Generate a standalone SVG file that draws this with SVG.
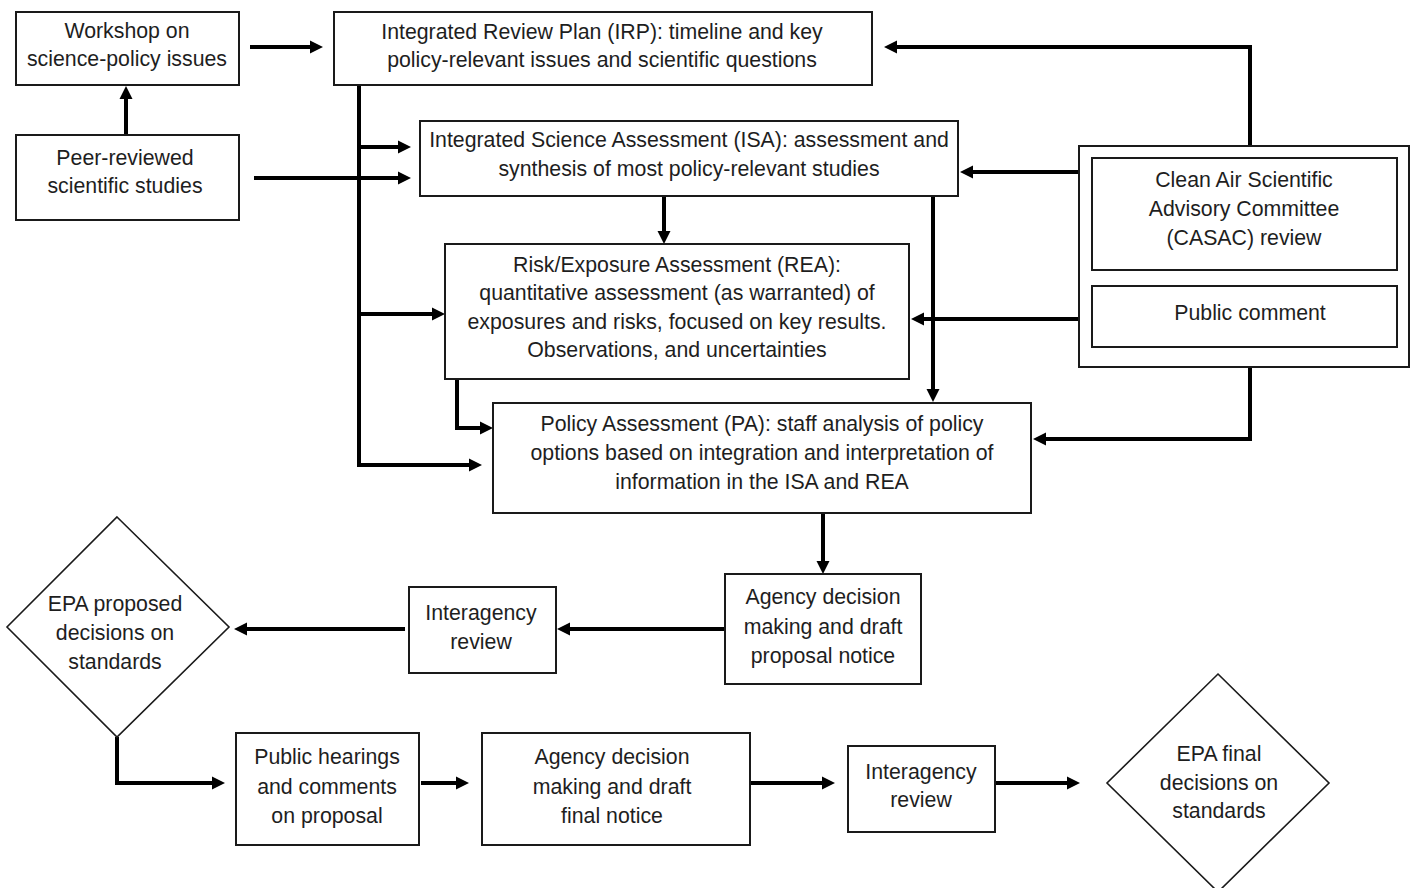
<svg xmlns="http://www.w3.org/2000/svg" width="1416" height="888" viewBox="0 0 1416 888">
<defs>
<style>
.box{fill:#fff;stroke:#1a1a1a;stroke-width:2}
.dia{fill:#fff;stroke:#1a1a1a;stroke-width:1.6}
.t{font-family:"Liberation Sans",Arial,sans-serif;font-size:21.3px;fill:#1e1e1e;text-anchor:middle;dominant-baseline:central}
.c{fill:none;stroke:#000;stroke-width:4;stroke-linejoin:miter}
</style>
<marker id="ah" viewBox="0 -7 13 14" refX="1" refY="0" markerWidth="13" markerHeight="14" markerUnits="userSpaceOnUse" orient="auto">
<path d="M0,-6.5 L13,0 L0,6.5 z" fill="#000"/>
</marker>
</defs>
<rect width="1416" height="888" fill="#fff"/>

<g id="connectors">
<path class="c" d="M250,47 H311" marker-end="url(#ah)"/>
<path class="c" d="M126,135 V98" marker-end="url(#ah)"/>
<path class="c" d="M254,178 H399" marker-end="url(#ah)"/>
<path class="c" d="M359,85 V465 H470"  marker-end="url(#ah)"/>
<path class="c" d="M359,147 H399" marker-end="url(#ah)"/>
<path class="c" d="M359,314 H433" marker-end="url(#ah)"/>
<path class="c" d="M664,196 V232" marker-end="url(#ah)"/>
<path class="c" d="M933,196 V390" marker-end="url(#ah)"/>
<path class="c" d="M457,379 V428 H481" marker-end="url(#ah)"/>
<path class="c" d="M1250,146 V47 H896" marker-end="url(#ah)"/>
<path class="c" d="M1079,172 H972" marker-end="url(#ah)"/>
<path class="c" d="M1079,319 H923" marker-end="url(#ah)"/>
<path class="c" d="M1250,367 V439 H1045" marker-end="url(#ah)"/>
<path class="c" d="M823,513 V562" marker-end="url(#ah)"/>
<path class="c" d="M725,629 H569" marker-end="url(#ah)"/>
<path class="c" d="M405,629 H246" marker-end="url(#ah)"/>
<path class="c" d="M117,737 V783 H213" marker-end="url(#ah)"/>
<path class="c" d="M421,783 H457" marker-end="url(#ah)"/>
<path class="c" d="M750,783 H823" marker-end="url(#ah)"/>
<path class="c" d="M995,783 H1068" marker-end="url(#ah)"/>
</g>

<g id="workshop">
<rect class="box" x="16" y="12" width="223" height="73"/>
<text class="t" x="127" y="31">Workshop on</text>
<text class="t" x="127" y="59">science-policy issues</text>
</g>

<g id="irp">
<rect class="box" x="334" y="12" width="538" height="73"/>
<text class="t" x="602" y="32">Integrated Review Plan (IRP): timeline and key</text>
<text class="t" x="602" y="60">policy-relevant issues and scientific questions</text>
</g>

<g id="peer">
<rect class="box" x="16" y="135" width="223" height="85"/>
<text class="t" x="125" y="158">Peer-reviewed</text>
<text class="t" x="125" y="186">scientific studies</text>
</g>

<g id="isa">
<rect class="box" x="420" y="121" width="538" height="75"/>
<text class="t" x="689" y="140">Integrated Science Assessment (ISA): assessment and</text>
<text class="t" x="689" y="169">synthesis of most policy-relevant studies</text>
</g>

<g id="rea">
<rect class="box" x="445" y="244" width="464" height="135"/>
<text class="t" x="677" y="265">Risk/Exposure Assessment (REA):</text>
<text class="t" x="677" y="293">quantitative assessment (as warranted) of</text>
<text class="t" x="677" y="322">exposures and risks, focused on key results.</text>
<text class="t" x="677" y="350">Observations, and uncertainties</text>
</g>

<g id="pa">
<rect class="box" x="493" y="403" width="538" height="110"/>
<text class="t" x="762" y="424">Policy Assessment (PA): staff analysis of policy</text>
<text class="t" x="762" y="453">options based on integration and interpretation of</text>
<text class="t" x="762" y="482">information in the ISA and REA</text>
</g>

<g id="review-group">
<rect class="box" x="1079" y="146" width="330" height="221"/>
<g id="casac">
<rect class="box" x="1092" y="158" width="305" height="112"/>
<text class="t" x="1244" y="180">Clean Air Scientific</text>
<text class="t" x="1244" y="209">Advisory Committee</text>
<text class="t" x="1244" y="238">(CASAC) review</text>
</g>
<g id="public-comment">
<rect class="box" x="1092" y="286" width="305" height="61"/>
<text class="t" x="1250" y="313">Public comment</text>
</g>
</g>

<g id="agency-proposal">
<rect class="box" x="725" y="574" width="196" height="110"/>
<text class="t" x="823" y="597">Agency decision</text>
<text class="t" x="823" y="627">making and draft</text>
<text class="t" x="823" y="656">proposal notice</text>
</g>

<g id="interagency-1">
<rect class="box" x="409" y="587" width="147" height="86"/>
<text class="t" x="481" y="613">Interagency</text>
<text class="t" x="481" y="642">review</text>
</g>

<g id="epa-proposed">
<polygon class="dia" points="117,517 229,627 117,737 7,627"/>
<text class="t" x="115" y="604">EPA proposed</text>
<text class="t" x="115" y="633">decisions on</text>
<text class="t" x="115" y="662">standards</text>
</g>

<g id="public-hearings">
<rect class="box" x="236" y="733" width="183" height="112"/>
<text class="t" x="327" y="757">Public hearings</text>
<text class="t" x="327" y="787">and comments</text>
<text class="t" x="327" y="816">on proposal</text>
</g>

<g id="agency-final">
<rect class="box" x="482" y="733" width="268" height="112"/>
<text class="t" x="612" y="757">Agency decision</text>
<text class="t" x="612" y="787">making and draft</text>
<text class="t" x="612" y="816">final notice</text>
</g>

<g id="interagency-2">
<rect class="box" x="848" y="746" width="147" height="86"/>
<text class="t" x="921" y="772">Interagency</text>
<text class="t" x="921" y="800">review</text>
</g>

<g id="epa-final">
<polygon class="dia" points="1218,674 1329,783 1218,892 1107,783"/>
<text class="t" x="1219" y="754">EPA final</text>
<text class="t" x="1219" y="783">decisions on</text>
<text class="t" x="1219" y="811">standards</text>
</g>
</svg>
